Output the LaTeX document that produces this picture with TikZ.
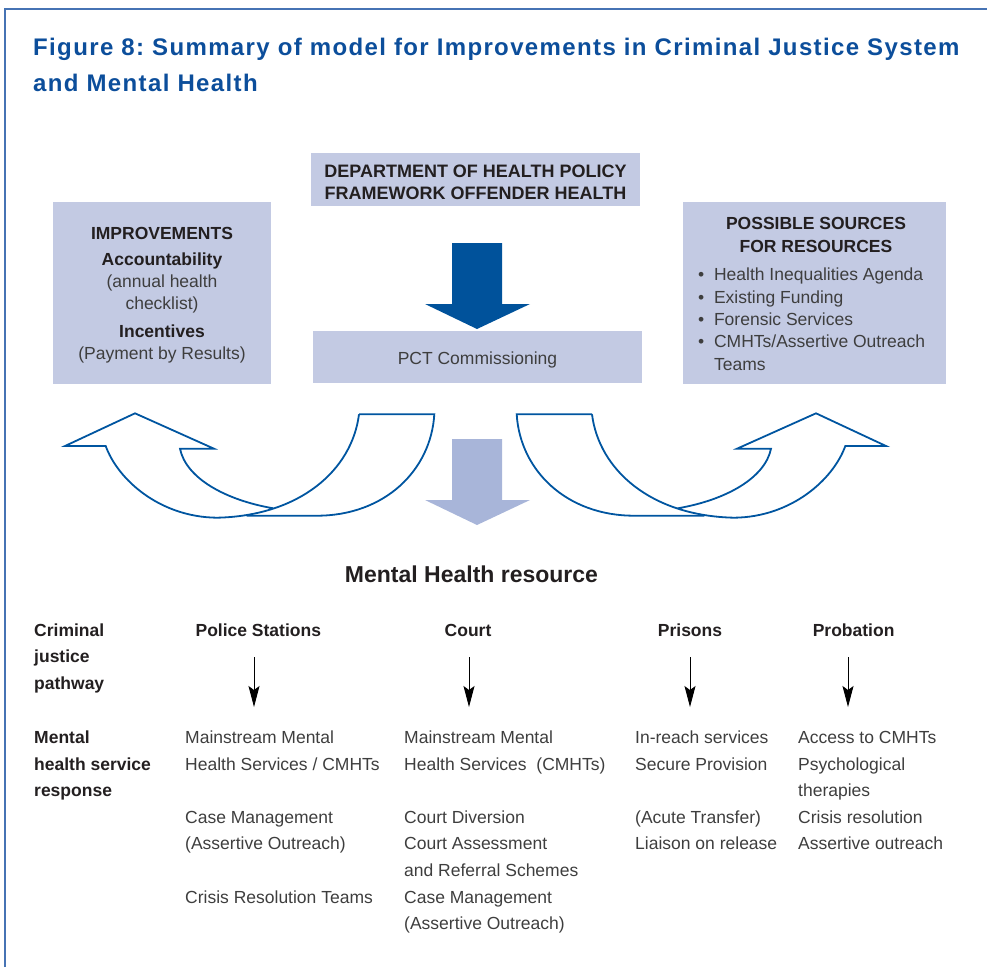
\documentclass[tikz,border=0pt]{standalone}
\usepackage{fontspec}
\setmainfont{Liberation Sans}
\newfontfamily\titlefont[LetterSpace=5.7]{Liberation Sans}
\usepackage{xcolor}
\usetikzlibrary{arrows.meta, positioning}
\definecolor{boxblue}{RGB}{195, 202, 227}
\definecolor{darkblue}{RGB}{0, 82, 155}
\definecolor{paleblue}{RGB}{168, 181, 217}
\definecolor{lineblue}{RGB}{0, 85, 160}
\definecolor{titleblue}{RGB}{12, 78, 155}
\definecolor{frameblue}{RGB}{70, 115, 180}
\definecolor{darkgrey}{RGB}{35, 31, 32}
\definecolor{midgrey}{RGB}{62, 62, 62}

\tikzset{
    infobox/.style={rectangle, fill=boxblue, inner sep=0pt, text=darkgrey},
    boxtext/.style={inner sep=0pt, align=center, text=darkgrey},
    coltext/.style={anchor=north west, inner sep=0pt, align=left, text=midgrey, font=\fontsize{17.5}{26.6}\selectfont},
    rowlabel/.style={coltext, text=darkgrey, font=\bfseries\fontsize{17.5}{26.6}\selectfont},
    colhead/.style={anchor=base, inner sep=0pt, text=darkgrey, font=\bfseries\fontsize{17.5}{21}\selectfont},
    uturn/.style={draw=lineblue, line width=1.8pt, line join=miter},
    pathway/.style={line width=0.9pt, -{Stealth[length=21pt, width=11pt, inset=4pt]}}
}

\begin{document}
\frenchspacing
\begin{tikzpicture}[x=1pt, y=-1pt]
    \useasboundingbox (0,0) rectangle (987,967);

    % frame and title
    \draw[frameblue, line width=1.6pt] (5,967) -- (5,9) -- (987,9);
    \node[anchor=north west, inner sep=0pt, align=left, text=titleblue, font=\titlefont\bfseries\fontsize{24}{36.7}\selectfont] (title) at (33,29.3)
        {\strut Figure 8: Summary of model for Improvements in Criminal Justice System\\and Mental Health};

    % policy boxes
    \node[infobox, minimum width=329, minimum height=53] (dh) at (475.5,179.5) {};
    \node[boxtext, font=\bfseries\fontsize{18}{22}\selectfont] (dhtext) at ([yshift=-3pt]dh.center)
        {DEPARTMENT OF HEALTH POLICY\\FRAMEWORK OFFENDER HEALTH};
    \node[infobox, minimum width=329, minimum height=52] (pct) at (477.5,357) {};
    \node[boxtext, text=midgrey, font=\fontsize{17.5}{22}\selectfont] (pcttext) at ([yshift=-3pt]pct.center) {PCT Commissioning};
    \node[infobox, minimum width=218, minimum height=182] (improve) at (162,293) {};
    \node[boxtext, font=\fontsize{17.5}{22}\selectfont] (improvetext) at ([yshift=-2pt]improve.center)
        {\textbf{IMPROVEMENTS}\\[4pt]\textbf{Accountability}\\{\color{midgrey}(annual health}\\{\color{midgrey}checklist)}\\[6pt]\textbf{Incentives}\\{\color{midgrey}(Payment by Results)}};
    \node[infobox, minimum width=263, minimum height=182] (sources) at (814.5,293) {};
    \node[boxtext, anchor=north, font=\bfseries\fontsize{17.5}{23.4}\selectfont] (srchead) at (816,212.9)
        {\strut POSSIBLE SOURCES\\FOR RESOURCES};
    \node[anchor=north west, inner sep=0pt, align=left, text=midgrey, font=\fontsize{17.5}{22.3}\selectfont] (srclist) at (698,265.1)
        {\strut\textbullet~~Health Inequalities Agenda\\\textbullet~~Existing Funding\\\textbullet~~Forensic Services\\\textbullet~~CMHTs/Assertive Outreach\\\phantom{\textbullet~~}Teams};

    % block arrows
    \fill[darkblue] (452,243) -- (502,243) -- (502,304) -- (530,304) -- (477,329) -- (425,304) -- (452,304) -- cycle;
    \fill[paleblue] (452,439) -- (502,439) -- (502,500) -- (530,500) -- (477,525) -- (425,500) -- (452,500) -- cycle;

    % curved arrows, left one and its mirror
    \foreach \s/\dx in {1/0, -1/951} {
        \begin{scope}[xshift=\dx, xscale=\s]
            \draw[uturn] (359,414.3) -- (434.3,414.3) .. controls (431,470) and (385,515.7) .. (316.7,515.7) -- (246.7,515.7);
            \draw[uturn] (273.3,508.3) .. controls (225,500) and (186,478) .. (180,448.7) -- (214,448.7) -- (135,413.3)
                -- (65,446) -- (105.7,446) .. controls (118,480) and (160,517) .. (216.7,517.7)
                .. controls (300,516) and (352,470) .. (359,414.3);
        \end{scope}
    }

    % resource table
    \node[anchor=base, inner sep=0pt, text=darkgrey, font=\bfseries\fontsize{23}{25}\selectfont] (mhr) at (471.5,582) {Mental Health resource};

    \node[rowlabel] (cjp) at (34,617.4) {\strut Criminal\\justice\\pathway};
    \node[colhead] (police) at (258.3,636) {Police Stations};
    \node[colhead] (court) at (468,636) {Court};
    \node[colhead] (prisons) at (690,636) {Prisons};
    \node[colhead] (probation) at (853.6,636) {Probation};

    \foreach \name/\x in {police/254, court/469, prisons/690, probation/848} {
        \coordinate (\name top) at (\x,657);
        \coordinate (\name end) at (\x,707);
        \draw[pathway] (\name top) -- (\name end);
    }

    \node[rowlabel] (mhsr) at (34,724.7) {\strut Mental\\health service\\response};
    \node[coltext] (policetext) at (185,724.7)
        {\strut Mainstream Mental\\Health Services / CMHTs\\[26.6pt]Case Management\\(Assertive Outreach)\\[26.6pt]Crisis Resolution Teams};
    \node[coltext] (courttext) at (404,724.7)
        {\strut Mainstream Mental\\Health Services\ \ (CMHTs)\\[26.6pt]Court Diversion\\Court Assessment\\and Referral Schemes\\Case Management\\(Assertive Outreach)};
    \node[coltext] (prisonstext) at (635,724.7)
        {\strut In-reach services\\Secure Provision\\[26.6pt](Acute Transfer)\\Liaison on release};
    \node[coltext] (probationtext) at (798,724.7)
        {\strut Access to CMHTs\\Psychological\\therapies\\Crisis resolution\\Assertive outreach};
\end{tikzpicture}
\end{document}
